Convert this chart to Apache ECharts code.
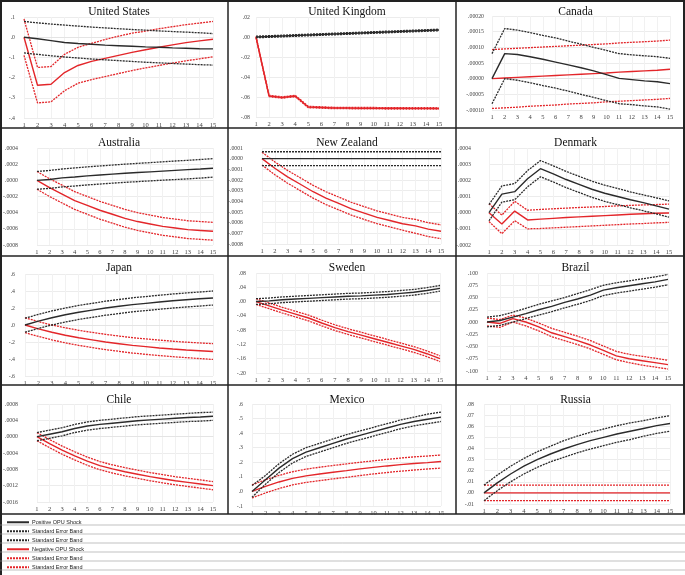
<!DOCTYPE html>
<html><head><meta charset="utf-8">
<script src="https://cdn.jsdelivr.net/npm/echarts@6/dist/echarts.min.js"></script>
<style>html,body{margin:0;padding:0;background:#fff}#c{width:685px;height:575px}</style>
</head><body><div id="c"></div>
<script>
const periods = ['1','2','3','4','5','6','7','8','9','10','11','12','13','14','15'];
const countries = ['United States','United Kingdom','Canada','Australia','New Zealand','Denmark','Japan','Sweden','Brazil','Chile','Mexico','Russia'];
const legendLabels = ['Positive OPU Shock','Standard Error Band','Standard Error Band','Negative OPU Shock','Standard Error Band','Standard Error Band'];

// United States
const usPos   = [0,-0.008,-0.017,-0.026,-0.031,-0.035,-0.039,-0.042,-0.045,-0.048,-0.050,-0.053,-0.055,-0.057,-0.058];
const usPosUp = [0.078,0.071,0.065,0.060,0.055,0.050,0.046,0.042,0.038,0.035,0.031,0.028,0.025,0.022,0.018];
const usPosLo = [-0.078,-0.085,-0.092,-0.098,-0.103,-0.108,-0.112,-0.116,-0.120,-0.124,-0.127,-0.130,-0.133,-0.136,-0.138];
const usNeg   = [0,-0.238,-0.233,-0.175,-0.140,-0.120,-0.105,-0.090,-0.075,-0.062,-0.050,-0.038,-0.027,-0.018,-0.010];
const usNegUp = [0.090,-0.150,-0.145,-0.085,-0.050,-0.030,-0.012,0.005,0.020,0.030,0.042,0.052,0.062,0.070,0.078];
const usNegLo = [-0.090,-0.325,-0.320,-0.265,-0.228,-0.210,-0.195,-0.180,-0.165,-0.152,-0.140,-0.128,-0.117,-0.107,-0.097];
// United Kingdom
const ukPos   = [0,0.0005,0.001,0.0015,0.002,0.0025,0.003,0.0035,0.004,0.0045,0.005,0.0055,0.006,0.0065,0.007];
const ukPosUp = [0.0008,0.0013,0.0018,0.0023,0.0028,0.0033,0.0038,0.0043,0.0048,0.0053,0.0058,0.0063,0.0068,0.0073,0.0078];
const ukPosLo = [-0.0008,-0.0003,0.0002,0.0007,0.0012,0.0017,0.0022,0.0027,0.0032,0.0037,0.0042,0.0047,0.0052,0.0057,0.0062];
const ukNeg   = [0,-0.0590,-0.0605,-0.0590,-0.0700,-0.0705,-0.0710,-0.0710,-0.0712,-0.0712,-0.0713,-0.0713,-0.0714,-0.0714,-0.0715];
const ukNegUp = [0.0007,-0.0583,-0.0598,-0.0583,-0.0693,-0.0698,-0.0703,-0.0703,-0.0705,-0.0705,-0.0706,-0.0706,-0.0707,-0.0707,-0.0708];
const ukNegLo = [-0.0007,-0.0597,-0.0612,-0.0597,-0.0707,-0.0712,-0.0717,-0.0717,-0.0719,-0.0719,-0.0720,-0.0720,-0.0721,-0.0721,-0.0722];
// Canada
const caPos   = [0,0.000080,0.000077,0.000070,0.000062,0.000053,0.000044,0.000035,0.000025,0.000013,0.000001,-0.000003,-0.000007,-0.000010,-0.000016];
const caPosUp = [0.000080,0.000160,0.000155,0.000147,0.000138,0.000130,0.000120,0.000110,0.000100,0.000090,0.000080,0.000076,0.000073,0.000070,0.000065];
const caPosLo = [-0.000080,0.000000,-0.000005,-0.000013,-0.000022,-0.000030,-0.000040,-0.000050,-0.000060,-0.000070,-0.000080,-0.000083,-0.000087,-0.000090,-0.000097];
const caNeg   = [0,0.000002,0.000004,0.000006,0.000008,0.000010,0.000012,0.000014,0.000016,0.000018,0.000021,0.000023,0.000025,0.000027,0.000030];
const caNegUp = [0.000093,0.000095,0.000097,0.000099,0.000101,0.000103,0.000105,0.000107,0.000109,0.000111,0.000114,0.000116,0.000118,0.000120,0.000123];
const caNegLo = [-0.000095,-0.000093,-0.000091,-0.000088,-0.000086,-0.000084,-0.000081,-0.000079,-0.000077,-0.000074,-0.000072,-0.000070,-0.000068,-0.000066,-0.000063];
// Australia
const auPos   = [0,0.000010,0.000030,0.000042,0.000055,0.000066,0.000077,0.000087,0.000096,0.000105,0.000114,0.000123,0.000132,0.000140,0.000150];
const auPosUp = [0.000110,0.000122,0.000140,0.000153,0.000166,0.000178,0.000189,0.000200,0.000210,0.000219,0.000229,0.000239,0.000248,0.000258,0.000268];
const auPosLo = [-0.000110,-0.000100,-0.000082,-0.000070,-0.000057,-0.000046,-0.000035,-0.000025,-0.000016,-0.000007,0.000002,0.000010,0.000018,0.000028,0.000040];
const auNeg   = [0,-0.00009,-0.00017,-0.00025,-0.00031,-0.00037,-0.00042,-0.00047,-0.00051,-0.00054,-0.00057,-0.00059,-0.00061,-0.00062,-0.00063];
const auNegUp = [0.00011,0.00002,-0.00006,-0.00014,-0.00020,-0.00026,-0.00031,-0.00036,-0.00040,-0.00043,-0.00046,-0.00048,-0.00050,-0.00051,-0.00052];
const auNegLo = [-0.00011,-0.00020,-0.00028,-0.00036,-0.00042,-0.00048,-0.00053,-0.00058,-0.00062,-0.00065,-0.00068,-0.00070,-0.00072,-0.00073,-0.00074];
// New Zealand
const nzPos   = [0,0,0,0,0,0,0,0,0,0,0,0,0,0,0];
const nzPosUp = [0.000065,0.000065,0.000065,0.000065,0.000065,0.000065,0.000065,0.000065,0.000065,0.000065,0.000065,0.000065,0.000065,0.000065,0.000065];
const nzPosLo = [-0.000065,-0.000065,-0.000065,-0.000065,-0.000065,-0.000065,-0.000065,-0.000065,-0.000065,-0.000065,-0.000065,-0.000065,-0.000065,-0.000065,-0.000065];
const nzNeg   = [0,-0.00009,-0.00017,-0.00024,-0.00031,-0.00037,-0.00042,-0.00047,-0.00051,-0.00055,-0.00058,-0.00061,-0.00063,-0.00066,-0.00068];
const nzNegUp = [0.00006,-0.00003,-0.00011,-0.00018,-0.00025,-0.00031,-0.00036,-0.00041,-0.00045,-0.00049,-0.00052,-0.00055,-0.00057,-0.00060,-0.00062];
const nzNegLo = [-0.00006,-0.00015,-0.00023,-0.00030,-0.00037,-0.00043,-0.00048,-0.00053,-0.00057,-0.00061,-0.00064,-0.00067,-0.00070,-0.00073,-0.00075];
// Denmark
const dkPos   = [0,0.000115,0.000130,0.000210,0.000272,0.000240,0.000205,0.000175,0.000145,0.000120,0.000100,0.000080,0.000062,0.000042,0.000022];
const dkPosUp = [0.000050,0.000165,0.000180,0.000260,0.000322,0.000290,0.000255,0.000225,0.000195,0.000170,0.000150,0.000128,0.000110,0.000092,0.000073];
const dkPosLo = [-0.000050,0.000065,0.000080,0.000160,0.000222,0.000190,0.000155,0.000125,0.000095,0.000070,0.000050,0.000030,0.000012,-0.000008,-0.000028];
const dkNeg   = [0,-0.000070,0.000010,-0.000045,-0.000040,-0.000035,-0.000030,-0.000026,-0.000022,-0.000018,-0.000014,-0.000010,-0.000007,-0.000004,-0.000002];
const dkNegUp = [0.000055,-0.000015,0.000070,0.000015,0.000020,0.000024,0.000028,0.000032,0.000035,0.000038,0.000042,0.000045,0.000048,0.000050,0.000053];
const dkNegLo = [-0.000055,-0.000130,-0.000050,-0.000100,-0.000098,-0.000094,-0.000090,-0.000086,-0.000082,-0.000078,-0.000074,-0.000070,-0.000067,-0.000063,-0.000060];
// Japan
const jpPos   = [0,0.045,0.085,0.120,0.150,0.175,0.200,0.220,0.240,0.255,0.270,0.285,0.297,0.308,0.318];
const jpPosUp = [0.080,0.125,0.165,0.200,0.230,0.255,0.280,0.300,0.320,0.335,0.350,0.365,0.377,0.388,0.400];
const jpPosLo = [-0.085,-0.040,0.000,0.035,0.065,0.090,0.115,0.135,0.155,0.170,0.185,0.200,0.212,0.223,0.235];
const jpNeg   = [0,-0.045,-0.085,-0.120,-0.150,-0.175,-0.200,-0.220,-0.240,-0.255,-0.270,-0.283,-0.294,-0.303,-0.312];
const jpNegUp = [0.085,0.040,0.000,-0.033,-0.062,-0.087,-0.110,-0.130,-0.149,-0.164,-0.178,-0.191,-0.202,-0.211,-0.220];
const jpNegLo = [-0.090,-0.135,-0.175,-0.210,-0.240,-0.265,-0.290,-0.310,-0.330,-0.345,-0.360,-0.373,-0.384,-0.395,-0.405];
// Sweden
const sePos   = [0,0.002,0.005,0.007,0.009,0.011,0.013,0.015,0.016,0.018,0.020,0.023,0.026,0.031,0.037];
const sePosUp = [0.008,0.010,0.013,0.015,0.017,0.019,0.021,0.023,0.024,0.026,0.028,0.031,0.034,0.039,0.045];
const sePosLo = [-0.008,-0.006,-0.003,-0.001,0.001,0.003,0.005,0.007,0.008,0.010,0.012,0.015,0.018,0.023,0.029];
const seNeg   = [0,-0.012,-0.024,-0.035,-0.046,-0.060,-0.073,-0.084,-0.094,-0.104,-0.114,-0.124,-0.134,-0.146,-0.160];
const seNegUp = [0.008,-0.004,-0.016,-0.027,-0.038,-0.052,-0.065,-0.076,-0.086,-0.096,-0.106,-0.116,-0.126,-0.138,-0.152];
const seNegLo = [-0.008,-0.020,-0.032,-0.043,-0.054,-0.068,-0.081,-0.092,-0.102,-0.112,-0.122,-0.132,-0.142,-0.154,-0.168];
// Brazil
const brPos   = [0,0.003,0.010,0.017,0.025,0.032,0.040,0.047,0.055,0.065,0.070,0.074,0.078,0.082,0.087];
const brPosUp = [0.010,0.013,0.020,0.028,0.036,0.043,0.050,0.058,0.066,0.075,0.080,0.084,0.088,0.092,0.097];
const brPosLo = [-0.010,-0.007,0.000,0.007,0.014,0.021,0.029,0.036,0.044,0.054,0.059,0.063,0.067,0.071,0.076];
const brNeg   = [0,-0.003,0.007,0.000,-0.010,-0.022,-0.030,-0.038,-0.047,-0.058,-0.069,-0.075,-0.079,-0.083,-0.087];
const brNegUp = [0.008,0.005,0.014,0.008,-0.002,-0.013,-0.021,-0.029,-0.038,-0.049,-0.060,-0.066,-0.070,-0.074,-0.078];
const brNegLo = [-0.008,-0.011,0.000,-0.008,-0.018,-0.030,-0.038,-0.046,-0.055,-0.066,-0.077,-0.083,-0.088,-0.092,-0.096];
// Chile
const clPos   = [0,0.00006,0.00012,0.00020,0.00026,0.00030,0.00033,0.00036,0.00039,0.00041,0.00043,0.00045,0.00047,0.00048,0.00050];
const clPosUp = [0.00010,0.00016,0.00022,0.00030,0.00036,0.00040,0.00043,0.00046,0.00049,0.00051,0.00053,0.00055,0.00057,0.00059,0.00060];
const clPosLo = [-0.00010,-0.00004,0.00002,0.00010,0.00016,0.00020,0.00023,0.00026,0.00029,0.00031,0.00033,0.00035,0.00037,0.00038,0.00040];
const clNeg   = [0,-0.00017,-0.00033,-0.00047,-0.00060,-0.00071,-0.00079,-0.00086,-0.00092,-0.00098,-0.00103,-0.00108,-0.00112,-0.00116,-0.00120];
const clNegUp = [0.00010,-0.00007,-0.00023,-0.00037,-0.00050,-0.00061,-0.00069,-0.00076,-0.00082,-0.00088,-0.00093,-0.00098,-0.00102,-0.00106,-0.00110];
const clNegLo = [-0.00010,-0.00027,-0.00043,-0.00057,-0.00070,-0.00081,-0.00089,-0.00096,-0.00102,-0.00108,-0.00113,-0.00118,-0.00122,-0.00126,-0.00130];
// Mexico
const mxPos   = [0,0.080,0.160,0.225,0.270,0.300,0.330,0.360,0.385,0.410,0.435,0.460,0.480,0.495,0.510];
const mxPosUp = [0.040,0.110,0.190,0.255,0.300,0.330,0.360,0.390,0.415,0.440,0.465,0.490,0.510,0.530,0.545];
const mxPosLo = [-0.040,0.050,0.130,0.195,0.240,0.270,0.300,0.330,0.355,0.380,0.405,0.430,0.450,0.465,0.480];
const mxNeg   = [0,0.035,0.065,0.090,0.107,0.120,0.132,0.143,0.155,0.165,0.175,0.184,0.192,0.198,0.205];
const mxNegUp = [0.045,0.080,0.110,0.135,0.153,0.166,0.178,0.189,0.200,0.210,0.220,0.229,0.237,0.243,0.250];
const mxNegLo = [-0.045,-0.010,0.020,0.045,0.062,0.074,0.086,0.097,0.109,0.120,0.130,0.139,0.147,0.154,0.160];
// Russia
const ruPos   = [0,0.0090,0.0170,0.0240,0.0300,0.0350,0.0395,0.0435,0.0470,0.0500,0.0530,0.0555,0.0580,0.0605,0.0625];
const ruPosUp = [0.0070,0.0160,0.0240,0.0310,0.0370,0.0420,0.0470,0.0510,0.0545,0.0575,0.0605,0.0630,0.0650,0.0675,0.0695];
const ruPosLo = [-0.0070,0.0020,0.0100,0.0170,0.0230,0.0280,0.0320,0.0360,0.0395,0.0425,0.0455,0.0480,0.0510,0.0535,0.0555];
const ruNeg   = [0,0,0,0,0,0,0,0,0,0,0,0,0,0,0];
const ruNegUp = [0.007,0.007,0.007,0.007,0.007,0.007,0.007,0.007,0.007,0.007,0.007,0.007,0.007,0.007,0.007];
const ruNegLo = [-0.007,-0.007,-0.007,-0.007,-0.007,-0.007,-0.007,-0.007,-0.007,-0.007,-0.007,-0.007,-0.007,-0.007,-0.007];

const panelData = [
  [usPos,usPosUp,usPosLo,usNeg,usNegUp,usNegLo],
  [ukPos,ukPosUp,ukPosLo,ukNeg,ukNegUp,ukNegLo],
  [caPos,caPosUp,caPosLo,caNeg,caNegUp,caNegLo],
  [auPos,auPosUp,auPosLo,auNeg,auNegUp,auNegLo],
  [nzPos,nzPosUp,nzPosLo,nzNeg,nzNegUp,nzNegLo],
  [dkPos,dkPosUp,dkPosLo,dkNeg,dkNegUp,dkNegLo],
  [jpPos,jpPosUp,jpPosLo,jpNeg,jpNegUp,jpNegLo],
  [sePos,sePosUp,sePosLo,seNeg,seNegUp,seNegLo],
  [brPos,brPosUp,brPosLo,brNeg,brNegUp,brNegLo],
  [clPos,clPosUp,clPosLo,clNeg,clNegUp,clNegLo],
  [mxPos,mxPosUp,mxPosLo,mxNeg,mxNegUp,mxNegLo],
  [ruPos,ruPosUp,ruPosLo,ruNeg,ruNegUp,ruNegLo]
];
// y-axis scale per panel: [min, max, interval, decimals]
const yScales = [
  [-0.4,0.1,0.1,1],[-0.08,0.02,0.02,2],[-0.0001,0.0002,0.00005,5],
  [-0.0008,0.0004,0.0002,4],[-0.0008,0.0001,0.0001,4],[-0.0002,0.0004,0.0001,4],
  [-0.6,0.6,0.2,1],[-0.2,0.08,0.04,2],[-0.1,0.1,0.025,3],
  [-0.0016,0.0008,0.0004,4],[-0.1,0.6,0.1,1],[-0.01,0.08,0.01,2]
];

// layout (pixels): plot left x, plot right x, top y, bottom y, y-label margin
const layout = [
  [24,213,17,118,9],[256,439,17,117,6],[492,670,16,110,8],
  [34,213,148,245,19],[262,441,148,244,19],[489,669,148,245,18],
  [25,213,274,376,10],[256,440,273,373,10],[487,668,273,371,9],
  [34,213,404,502,19],[252,441,404,506,9],[484,670,404,504,10]
];
const colX = [0,228,456,685];
const rowY = [0,128,256,385,514];

const W = 685;
const BLACK = '#2b2b2b', RED = '#e3262a';
const seriesNames = ['Positive OPU Shock','Standard Error Band','Standard Error Band\u200b','Negative OPU Shock','Standard Error Band\u200b\u200b','Standard Error Band\u200b\u200b\u200b'];
const styles = [
  {color:BLACK,type:'solid',width:1.4},
  {color:BLACK,type:[2,1],width:1.3},
  {color:BLACK,type:[2,1],width:1.3},
  {color:RED,type:'solid',width:1.4},
  {color:RED,type:[2,1],width:1.3},
  {color:RED,type:[2,1],width:1.3}
];

const grids=[],xAxes=[],yAxes=[],series=[],titles=[];
countries.forEach((name,i)=>{
  const [l,r,t,b,m] = layout[i];
  const [mn,mx,iv,dec] = yScales[i];
  const col = i%3, row = Math.floor(i/3);
  grids.push({left:l,right:W-r,top:t,bottom:575-b,containLabel:false});
  xAxes.push({type:'category',gridIndex:i,data:periods,boundaryGap:false,
    axisLine:{show:true,lineStyle:{color:'#e4e4e4'}},axisTick:{show:false},
    axisLabel:{fontSize:6.5,color:'#444',margin:4,interval:0,fontFamily:'Liberation Serif'},
    splitLine:{show:true,lineStyle:{color:'#f1f1f1',width:1}}});
  yAxes.push({type:'value',gridIndex:i,min:mn,max:mx,interval:iv,
    axisLine:{show:false},axisTick:{show:false},
    axisLabel:{fontSize:5.8,color:'#444',margin:m,fontFamily:'Liberation Serif',
      formatter:v=>{if(Math.abs(v)<1e-12)v=0;return v.toFixed(dec).replace('0.','.');}},
    splitLine:{show:true,lineStyle:{color:'#ececec',width:1}}});
  titles.push({text:name,left:(colX[col]+colX[col+1])/2,top:rowY[row]+(row===0||row===2?1:4),textAlign:'center',
    textStyle:{fontFamily:'Liberation Serif',fontSize:11.5,fontWeight:'normal',color:'#111'}});
  panelData[i].forEach((arr,k)=>{
    series.push({type:'line',name:seriesNames[k],xAxisIndex:i,yAxisIndex:i,data:arr,
      symbol:'none',lineStyle:styles[k],itemStyle:{color:styles[k].color},z:k<3?3:2,animation:false,silent:true});
  });
});

const graphics=[];
const L=(x1,y1,x2,y2,w,c)=>graphics.push({type:'line',shape:{x1,y1,x2,y2},style:{stroke:c||'#222',lineWidth:w||1.5},silent:true});
// panel borders
L(1,0,1,575,2); L(684,0,684,514,2); L(0,1,685,1,2);
L(228,0,228,514,1.5); L(456,0,456,514,1.5);
[128,256,385,514].forEach(y=>L(0,y,685,y,1.5));
// legend separators
[525,534,543,552,561,570].forEach(y=>L(0,y,685,y,0.6,'#999'));

const chart = echarts.init(document.getElementById('c'),null,{renderer:'canvas'});
chart.setOption({
  animation:false,
  title:titles,
  grid:grids,xAxis:xAxes,yAxis:yAxes,series:series,
  legend:{data:seriesNames,orient:'vertical',left:6,top:519,padding:0,itemWidth:22,itemHeight:5,itemGap:2.5,height:56,
    itemStyle:{opacity:0},
    selectedMode:false,textStyle:{fontSize:5.5,color:'#222',fontFamily:'Liberation Sans',padding:[0,0,0,-2],lineHeight:6.5}},
  graphic:graphics
});
</script></body></html>
